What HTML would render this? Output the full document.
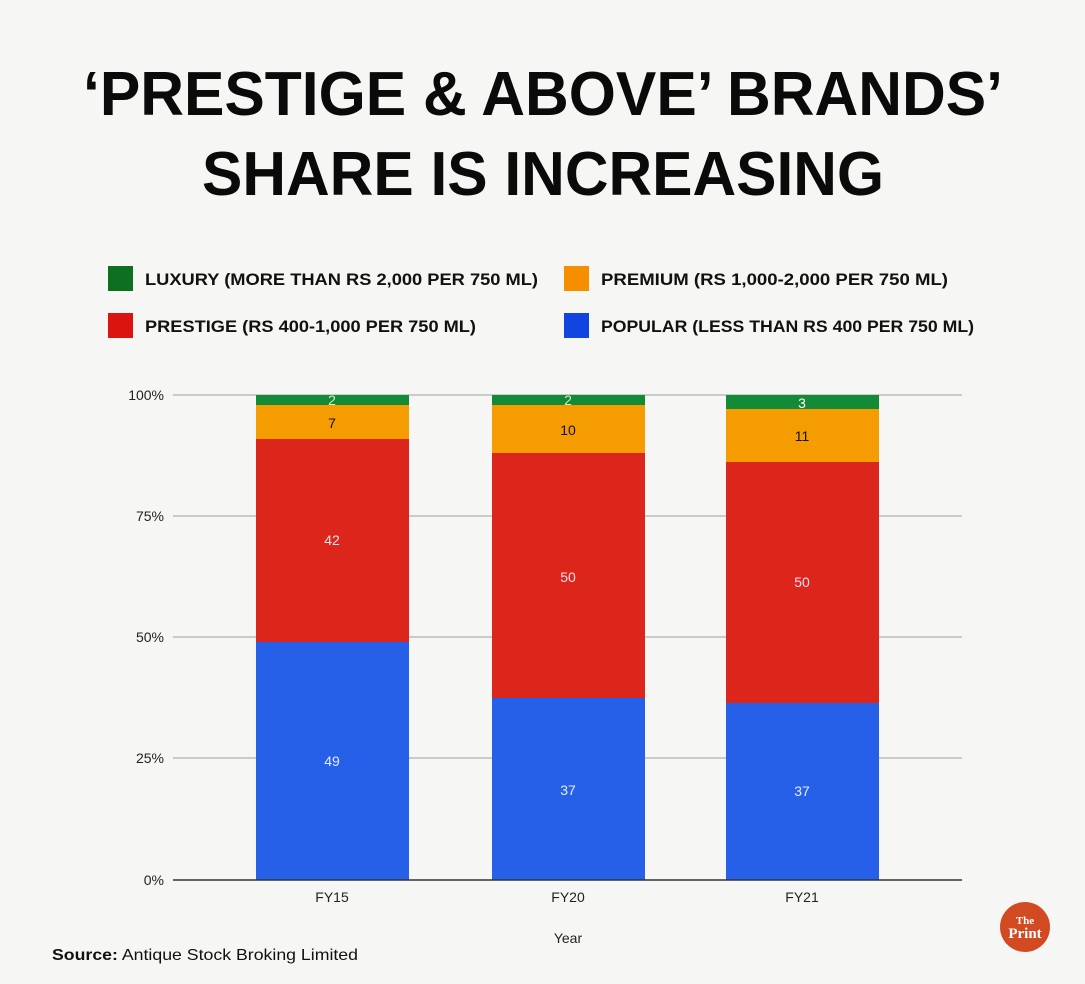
<!DOCTYPE html>
<html><head><meta charset="utf-8"><style>
html,body{margin:0;padding:0;background:#f6f6f4;}
svg{display:block;font-family:"Liberation Sans",Arial,sans-serif;}
</style></head><body>
<svg width="1085" height="984" viewBox="0 0 1085 984" xmlns="http://www.w3.org/2000/svg">
<rect width="1085" height="984" fill="#f6f6f4"/>
<g font-weight="bold" font-size="62" fill="#0a0a0a">
<text x="83" y="115" textLength="920" lengthAdjust="spacingAndGlyphs">‘PRESTIGE &amp; ABOVE’ BRANDS’</text>
<text x="202" y="195" textLength="682" lengthAdjust="spacingAndGlyphs">SHARE IS INCREASING</text>
</g>
<g font-weight="bold" font-size="17" fill="#111">
<rect x="108" y="266" width="25" height="25" fill="#0c7020"/>
<text x="145" y="285" textLength="393" lengthAdjust="spacingAndGlyphs">LUXURY (MORE THAN RS 2,000 PER 750 ML)</text>
<rect x="564" y="266" width="25" height="25" fill="#f58f00"/>
<text x="601" y="285" textLength="347" lengthAdjust="spacingAndGlyphs">PREMIUM (RS 1,000-2,000 PER 750 ML)</text>
<rect x="108" y="313" width="25" height="25" fill="#dc1410"/>
<text x="145" y="332" textLength="331" lengthAdjust="spacingAndGlyphs">PRESTIGE (RS 400-1,000 PER 750 ML)</text>
<rect x="564" y="313" width="25" height="25" fill="#1244e0"/>
<text x="601" y="332" textLength="373" lengthAdjust="spacingAndGlyphs">POPULAR (LESS THAN RS 400 PER 750 ML)</text>
</g>
<g stroke="#bbbbbb" stroke-width="1.5">
<line x1="173" y1="395" x2="962" y2="395"/>
<line x1="173" y1="516" x2="962" y2="516"/>
<line x1="173" y1="637" x2="962" y2="637"/>
<line x1="173" y1="758" x2="962" y2="758"/>
</g>
<g font-size="14" fill="#222" text-anchor="end">
<text x="164" y="400">100%</text><text x="164" y="521">75%</text><text x="164" y="642">50%</text><text x="164" y="763">25%</text><text x="164" y="885">0%</text>
</g>
<rect x="256" y="395" width="153" height="10" fill="#138a36"/>
<rect x="256" y="405" width="153" height="34" fill="#f59c00"/>
<rect x="256" y="439" width="153" height="203" fill="#dc261c"/>
<rect x="256" y="642" width="153" height="238" fill="#2660e8"/>
<rect x="492" y="395" width="153" height="10" fill="#138a36"/>
<rect x="492" y="405" width="153" height="48" fill="#f59c00"/>
<rect x="492" y="453" width="153" height="245" fill="#dc261c"/>
<rect x="492" y="698" width="153" height="182" fill="#2660e8"/>
<rect x="726" y="395" width="153" height="14" fill="#138a36"/>
<rect x="726" y="409" width="153" height="53" fill="#f59c00"/>
<rect x="726" y="462" width="153" height="241" fill="#dc261c"/>
<rect x="726" y="703" width="153" height="177" fill="#2660e8"/>
<line x1="173" y1="880" x2="962" y2="880" stroke="#333" stroke-width="1.5"/>
<g font-size="14" text-anchor="middle">
<text x="332" y="405" fill="#cdeccd">2</text><text x="568" y="405" fill="#cdeccd">2</text><text x="802" y="408" fill="#fff">3</text>
<text x="332" y="428" fill="#111">7</text><text x="568" y="435" fill="#111">10</text><text x="802" y="441" fill="#111">11</text>
<text x="332" y="545" fill="#fde">42</text><text x="568" y="582" fill="#fde">50</text><text x="802" y="587" fill="#fde">50</text>
<text x="332" y="766" fill="#e6ecff">49</text><text x="568" y="795" fill="#e6ecff">37</text><text x="802" y="796" fill="#e6ecff">37</text>
<text x="332" y="902" fill="#222">FY15</text><text x="568" y="902" fill="#222">FY20</text><text x="802" y="902" fill="#222">FY21</text>
<text x="568" y="943" fill="#222">Year</text>
</g>
<text x="52" y="960" font-size="16" fill="#111" textLength="306" lengthAdjust="spacingAndGlyphs"><tspan font-weight="bold">Source:</tspan> Antique Stock Broking Limited</text>
<circle cx="1025" cy="927" r="25" fill="#d24a22"/>
<text x="1025" y="924" font-family="Liberation Serif,serif" font-weight="bold" font-size="11" fill="#fff" text-anchor="middle">The</text>
<text x="1025" y="938" font-family="Liberation Serif,serif" font-weight="bold" font-size="15" fill="#fff" text-anchor="middle">Print</text>
</svg>
</body></html>
